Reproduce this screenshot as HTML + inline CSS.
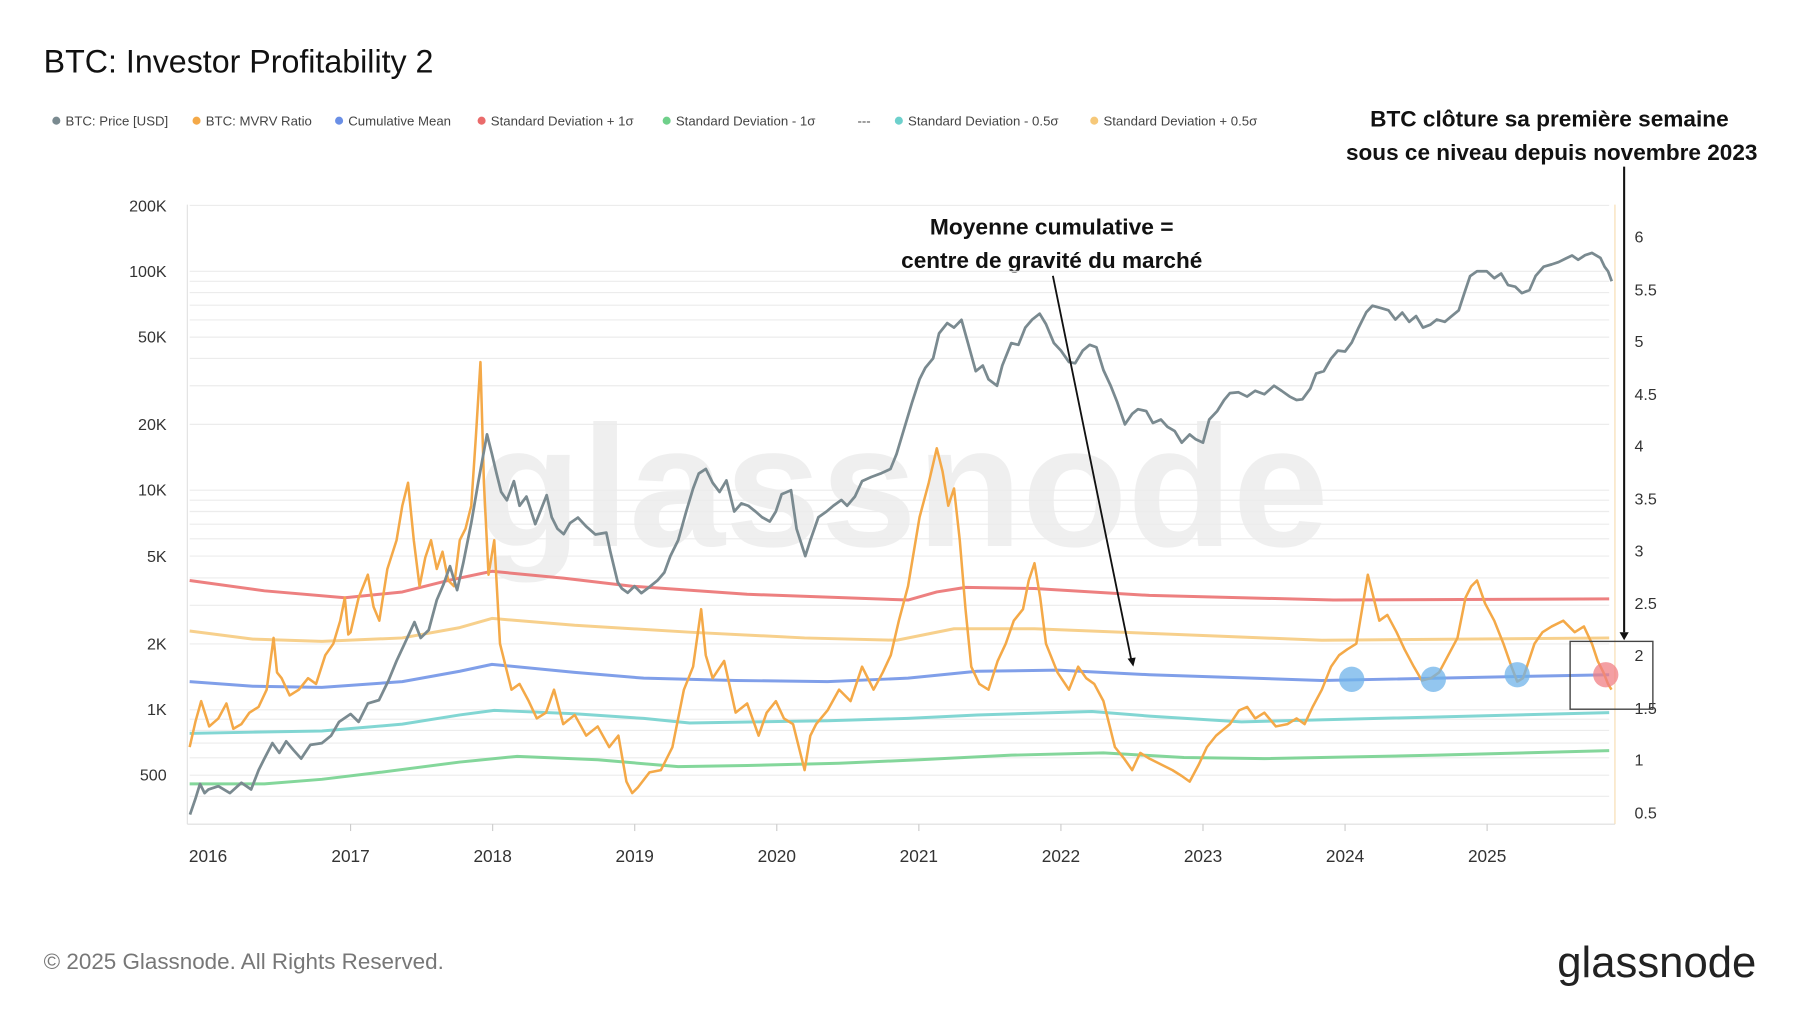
<!DOCTYPE html>
<html><head><meta charset="utf-8"><style>
html,body{margin:0;padding:0;background:#fff;}
svg{display:block;}
text{font-family:"Liberation Sans",sans-serif;}
</style></head><body>
<svg width="1800" height="1013" viewBox="0 0 1566 881.3" xmlns="http://www.w3.org/2000/svg">
<rect width="1566" height="882" fill="#fff"/>
<text x="38" y="63" font-size="28" fill="#111">BTC: Investor Profitability 2</text>
<g font-size="11.5" fill="#444">
<circle cx="49" cy="105" r="3.5" fill="#7a8a90"/><text x="57" y="109">BTC: Price [USD]</text>
<circle cx="171" cy="105" r="3.5" fill="#f4a948"/><text x="179" y="109">BTC: MVRV Ratio</text>
<circle cx="295" cy="105" r="3.5" fill="#6a8fe6"/><text x="303" y="109">Cumulative Mean</text>
<circle cx="419" cy="105" r="3.5" fill="#ea6b6b"/><text x="427" y="109">Standard Deviation + 1σ</text>
<circle cx="580" cy="105" r="3.5" fill="#6fd08a"/><text x="588" y="109">Standard Deviation - 1σ</text>
<text x="746" y="109">---</text>
<circle cx="782" cy="105" r="3.5" fill="#6dd0cc"/><text x="790" y="109">Standard Deviation - 0.5σ</text>
<circle cx="952" cy="105" r="3.5" fill="#f6c879"/><text x="960" y="109">Standard Deviation + 0.5σ</text>
</g>
<g font-size="19" font-weight="bold" fill="#111" text-anchor="middle">
<text x="1348" y="110" textLength="312" lengthAdjust="spacingAndGlyphs">BTC clôture sa première semaine</text>
<text x="1350" y="139" textLength="358" lengthAdjust="spacingAndGlyphs">sous ce niveau depuis novembre 2023</text>
<text x="915" y="204" textLength="212" lengthAdjust="spacingAndGlyphs">Moyenne cumulative =</text>
<text x="915" y="233" textLength="262" lengthAdjust="spacingAndGlyphs">centre de gravité du marché</text>
</g>
<text x="785" y="475" font-size="150" fill="#ececec" text-anchor="middle" font-weight="bold" opacity="0.8">glassnode</text>
<g stroke="#ececec" stroke-width="1">
<line x1="165" x2="1400" y1="178.7" y2="178.7"/><line x1="165" x2="1400" y1="236" y2="236"/><line x1="165" x2="1400" y1="244.7" y2="244.7"/><line x1="165" x2="1400" y1="254.5" y2="254.5"/><line x1="165" x2="1400" y1="265.5" y2="265.5"/><line x1="165" x2="1400" y1="278.3" y2="278.3"/><line x1="165" x2="1400" y1="293.3" y2="293.3"/><line x1="165" x2="1400" y1="311.8" y2="311.8"/><line x1="165" x2="1400" y1="335.6" y2="335.6"/><line x1="165" x2="1400" y1="369.2" y2="369.2"/><line x1="165" x2="1400" y1="426.5" y2="426.5"/><line x1="165" x2="1400" y1="435.2" y2="435.2"/><line x1="165" x2="1400" y1="445" y2="445"/><line x1="165" x2="1400" y1="456" y2="456"/><line x1="165" x2="1400" y1="468.8" y2="468.8"/><line x1="165" x2="1400" y1="483.8" y2="483.8"/><line x1="165" x2="1400" y1="502.8" y2="502.8"/><line x1="165" x2="1400" y1="526.6" y2="526.6"/><line x1="165" x2="1400" y1="560.2" y2="560.2"/><line x1="165" x2="1400" y1="617.5" y2="617.5"/><line x1="165" x2="1400" y1="625.7" y2="625.7"/><line x1="165" x2="1400" y1="635.5" y2="635.5"/><line x1="165" x2="1400" y1="646.5" y2="646.5"/><line x1="165" x2="1400" y1="659.3" y2="659.3"/><line x1="165" x2="1400" y1="674.4" y2="674.4"/><line x1="165" x2="1400" y1="692.8" y2="692.8"/>
</g>
<line x1="163" y1="178" x2="163" y2="717" stroke="#e2e2e2"/>
<line x1="1405" y1="178" x2="1405" y2="717" stroke="#f7dcb0"/>
<line x1="163" y1="717" x2="1405" y2="717" stroke="#ddd"/>
<g font-size="14" fill="#333" text-anchor="end">
<text x="145" y="184">200K</text><text x="145" y="241">100K</text><text x="145" y="298">50K</text><text x="145" y="374">20K</text><text x="145" y="431">10K</text><text x="145" y="489">5K</text><text x="145" y="565">2K</text><text x="145" y="622">1K</text><text x="145" y="679">500</text>
</g>
<g font-size="14" fill="#333">
<text x="1422" y="211">6</text><text x="1422" y="257">5.5</text><text x="1422" y="302">5</text><text x="1422" y="348">4.5</text><text x="1422" y="393">4</text><text x="1422" y="439">3.5</text><text x="1422" y="484">3</text><text x="1422" y="530">2.5</text><text x="1422" y="575">2</text><text x="1422" y="621">1.5</text><text x="1422" y="666">1</text><text x="1422" y="712">0.5</text>
</g>
<g stroke="#ccc"><line x1="305" x2="305" y1="717" y2="723"/><line x1="428.6" x2="428.6" y1="717" y2="723"/><line x1="552.2" x2="552.2" y1="717" y2="723"/><line x1="675.8" x2="675.8" y1="717" y2="723"/><line x1="799.4" x2="799.4" y1="717" y2="723"/><line x1="923" x2="923" y1="717" y2="723"/><line x1="1046.6" x2="1046.6" y1="717" y2="723"/><line x1="1170.2" x2="1170.2" y1="717" y2="723"/><line x1="1293.8" x2="1293.8" y1="717" y2="723"/></g>
<g font-size="15" fill="#333" text-anchor="middle">
<text x="181" y="750">2016</text><text x="305" y="750">2017</text><text x="428.6" y="750">2018</text><text x="552.2" y="750">2019</text><text x="675.8" y="750">2020</text><text x="799.4" y="750">2021</text><text x="923" y="750">2022</text><text x="1046.6" y="750">2023</text><text x="1170.2" y="750">2024</text><text x="1293.8" y="750">2025</text>
</g>
<g fill="none" stroke-width="2.6" opacity="0.85" stroke-linejoin="round">
<polyline stroke="#ea6b6b" points="165,505 230,514 300,520 350,515 390,505 428,497 490,503 550,510 650,517 790,522 815,515 840,511 900,512 1000,518 1160,522 1400,521"/>
<polyline stroke="#f6c879" points="165,549 220,556 280,558 350,555 400,546 428,538 500,544 600,550 700,555 780,557 805,552 830,547 900,547 1000,551 1150,557 1400,555"/>
<polyline stroke="#6a8fe6" points="165,593 220,597 280,598 350,593 400,584 428,578 500,585 560,590 640,592 720,593 790,590 850,584 920,583 1000,587 1150,592 1400,587"/>
<polyline stroke="#6dd0cc" points="165,638 220,637 280,636 350,630 400,622 430,618 500,621 560,625 600,629 720,627 790,625 850,622 950,619 1000,623 1080,628 1400,620"/>
<polyline stroke="#6fd08a" points="165,682 230,682 280,678 330,672 400,663 450,658 520,661 590,667 650,666 730,664 800,661 880,657 960,655 1030,659 1100,660 1250,657 1400,653"/>
</g>
<polyline fill="none" stroke="#f4a948" stroke-width="2.2" stroke-linejoin="round" points="165,650 170,628 175,610 182,632 190,625 197,612 203,634 210,630 217,620 225,615 232,600 238,555 241,585 245,590 252,605 260,600 268,590 275,595 283,570 290,560 296,540 300,520 303,552 305,550 312,520 320,500 325,528 330,540 337,495 345,470 350,440 355,420 360,470 365,510 370,485 375,470 380,495 385,480 390,505 395,510 400,470 405,460 410,440 414,380 418,315 421,420 425,500 430,470 435,560 440,580 445,600 452,595 460,610 467,625 475,620 482,600 490,630 500,622 510,640 520,632 530,650 538,640 545,680 550,690 555,685 565,672 575,670 585,650 595,600 603,580 610,530 614,570 620,590 630,575 640,620 650,612 660,640 667,620 675,610 682,625 690,630 695,650 700,670 705,640 710,630 720,618 730,600 740,610 750,580 755,590 760,600 768,585 775,570 782,540 790,510 795,480 800,450 808,420 815,390 820,410 825,440 830,425 835,470 840,530 845,580 852,595 860,600 868,575 875,560 882,540 890,530 895,505 900,490 905,520 910,560 920,585 930,600 938,580 945,590 952,595 960,610 965,630 970,650 978,660 985,670 992,655 1000,660 1010,665 1020,670 1028,675 1035,680 1043,665 1050,650 1058,640 1070,630 1078,618 1085,615 1092,625 1100,620 1110,632 1120,630 1128,625 1135,630 1142,615 1150,600 1158,580 1165,570 1172,565 1180,560 1185,530 1190,500 1195,520 1200,540 1207,535 1215,550 1222,565 1230,580 1237,592 1245,590 1252,585 1260,570 1268,555 1275,520 1280,510 1285,505 1292,525 1300,540 1308,560 1315,580 1320,593 1325,590 1330,575 1335,560 1342,550 1350,545 1360,540 1370,550 1378,545 1385,560 1390,575 1395,585 1399,595 1402,600"/>
<polyline fill="none" stroke="#7a8a90" stroke-width="2.4" stroke-linejoin="round" points="165.3,708.7 170,695 174,682 178,690 181.4,686.8 190,684 200,690 210,681 218.5,686.8 225,670 230,660 237,646.5 243,655 249,645 255.4,652.6 262,660 270,648 280.1,646.5 288,640 295,628 305,621.2 312,628 320,612 329.7,609.1 338,592 345,575 352,560 360.6,541.2 366,555 373,548.1 380,522 386,508 391.5,492.6 397.7,513.4 403,490 410,455 416,420 423.7,377.9 428,395 432,412 436,428 441,435.2 447.1,418.6 452,440 458,432 465.7,456 470,445 475.6,430.8 480,450 485,460 490.4,464.7 496,455 502.8,450.3 510,458 518,465 527.5,463.4 531,480 537.4,506.5 541,512 546.1,515.7 552,510 558,516 564.6,511 572,505 578,498 583.2,483.8 590,470 597,445 603,425 607.9,412 614.1,408 620,420 626,428 632,418 638.8,445 645,438 651,440 657.3,445 663,450 669.7,453.7 675,445 680,430 688.2,426.5 693,460 700.6,483.8 705,470 712,450 719.1,445 725,440 732,435 737,440 743.8,432 750,418.6 758,415 766,412 774.7,408 780,395 786,375 793.3,350.7 800,330 805,320 811.8,311.8 817,290 824.1,281.1 830,285 836.5,278.3 842,298 848.9,322.9 855,318 860,330 867.4,335.6 872,318 879.8,298.5 886,300 892,285 898,278 904.5,272.9 910,282 916.9,298.5 923,305 930,315 935.4,316 942,305 948,300 953.9,302.1 960,322 966.3,335.6 972,350 978.7,369.2 985,360 990,356 997.2,357.6 1003,368 1010,365 1015.7,371.3 1022,375 1028.1,385.1 1035,378 1040,382 1046.6,385.1 1052,365 1059,357.6 1065,348 1070,342 1077.5,341.3 1085,345 1092,340 1100,343 1108.4,335.6 1115,340 1122,345 1128,348 1133.1,347.4 1140,338 1145,325 1151.7,322.9 1158,312 1164,305 1170.2,305.8 1176,298 1182,285 1188.7,271.6 1194,266 1201.1,267.9 1208,270 1214,278 1220,272 1226,280 1232,275 1238,285 1244.4,282.5 1250,278 1257,280 1263,275 1269.1,270 1274,255 1279,240.2 1285,236 1293.5,236 1300,242 1306,238 1312,248 1318.2,249.4 1324,255 1330.6,252.4 1336,240 1343,232 1350,230 1356,228 1362,225 1367.7,222.3 1373,226 1379,222 1385,220 1392.4,224.4 1396,232 1399,236 1402.2,244.7"/>
<g>
<circle cx="1176" cy="591" r="11" fill="#6fb3ea" opacity="0.75"/>
<circle cx="1247" cy="591" r="11" fill="#6fb3ea" opacity="0.75"/>
<circle cx="1320" cy="587" r="11" fill="#6fb3ea" opacity="0.75"/>
<circle cx="1397" cy="587" r="11" fill="#f07f84" opacity="0.75"/>
<rect x="1366" y="558" width="72" height="59" fill="none" stroke="#444" stroke-width="1.2"/>
<line x1="1413" y1="145" x2="1413" y2="550" stroke="#111" stroke-width="1.8"/>
<polygon points="1409,550 1417,550 1413,557" fill="#111"/>
<line x1="916" y1="240" x2="984" y2="573" stroke="#111" stroke-width="1.6"/>
<polygon points="981,573 988,572 986,580" fill="#111"/>
</g>
<text x="38" y="843" font-size="19.5" fill="#777">© 2025 Glassnode. All Rights Reserved.</text>
<text x="1528" y="850" font-size="38" fill="#222" text-anchor="end">glassnode</text>
</svg>
</body></html>
